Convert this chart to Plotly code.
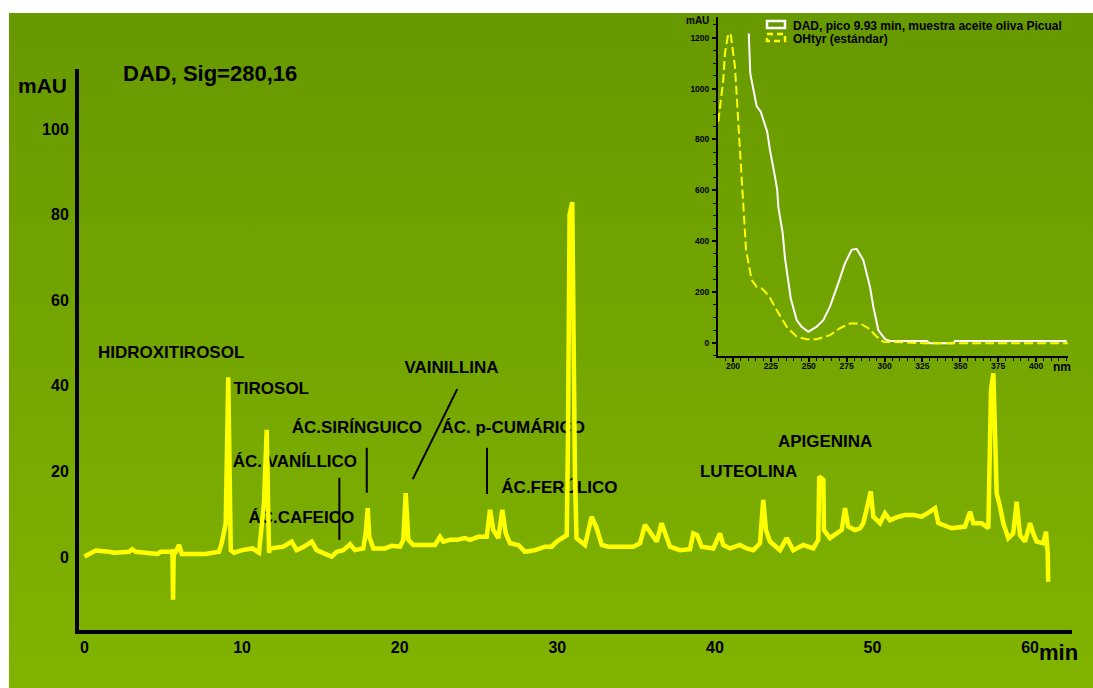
import base64
import plotly.graph_objects as go

W, H = 1093, 688

# ---- Chromatogram, DAD signal 280 nm (time in min, absorbance in mAU) ----
time_min = [0.0, 0.39, 0.71, 1.55, 1.87, 2.82, 3.03, 3.25, 3.88, 4.62, 4.84, 5.47, 5.58, 5.62, 5.66,
            5.79, 6.0, 6.17, 7.69, 8.53, 8.71, 8.96, 9.12, 9.28, 9.49, 10.01, 10.65, 11.07, 11.39,
            11.56, 11.71, 11.77, 12.61, 13.15, 13.46, 13.88, 14.42, 14.73, 15.15, 15.69, 16.0,
            16.42, 16.85, 17.16, 17.69, 17.84, 17.97, 18.07, 18.33, 19.07, 19.49, 20.02, 20.23,
            20.38, 20.55, 20.86, 22.24, 22.56, 22.77, 23.19, 23.62, 24.14, 24.46, 24.99, 25.52,
            25.73, 25.94, 26.26, 26.51, 26.73, 27.0, 27.53, 27.95, 28.58, 29.22, 29.64, 29.96,
            30.38, 30.6, 30.68, 30.78, 30.95, 31.02, 31.12, 31.22, 31.44, 31.76, 32.18, 32.5,
            32.82, 33.24, 34.82, 35.25, 35.56, 35.88, 36.31, 36.62, 36.83, 37.15, 37.79, 38.42,
            38.63, 38.88, 39.16, 39.9, 40.32, 40.53, 40.96, 41.59, 42.02, 42.44, 42.86, 43.07,
            43.24, 43.5, 44.13, 44.56, 44.97, 45.61, 46.24, 46.56, 46.62, 46.88, 46.92, 47.3,
            47.73, 48.05, 48.26, 48.46, 48.89, 49.21, 49.42, 49.63, 49.89, 50.05, 50.48, 50.79,
            51.11, 51.64, 52.06, 52.59, 53.12, 53.65, 53.97, 54.18, 55.03, 55.87, 56.19, 56.4,
            56.93, 57.35, 57.52, 57.67, 57.88, 58.09, 58.3, 58.62, 58.93, 59.15, 59.36, 59.68,
            60.0, 60.2, 60.42, 60.84, 61.01, 61.12, 61.15]
signal_mau = [0.1, 1.0, 1.5, 1.2, 1.0, 1.2, 1.8, 1.2, 1.0, 0.7, 1.2, 1.2, 1.2, -10.0, 1.3,
              1.2, 2.8, 0.7, 0.7, 1.2, 3.2, 7.9, 42.0, 1.6, 1.0, 1.6, 2.0, 1.0, 12.6,
              29.7, 1.0, 2.0, 2.4, 3.6, 1.6, 2.3, 3.6, 1.6, 0.9, 0.1, 1.2,
              1.6, 3.0, 1.6, 2.0, 5.5, 11.4, 4.7, 2.0, 2.0, 2.6, 2.4, 4.0,
              14.9, 4.0, 2.8, 2.8, 4.7, 3.6, 4.0, 4.0, 4.4, 4.0, 4.7, 4.7,
              11.0, 6.3, 4.4, 11.0, 5.5, 3.2, 2.8, 1.2, 1.6, 2.4, 2.4, 3.6,
              4.4, 5.1, 28.0, 80.0, 82.9, 49.0, 19.0, 4.4, 3.6, 2.8, 9.4, 6.7,
              2.8, 2.4, 2.4, 3.2, 7.5, 5.9, 3.6, 7.9, 5.9, 2.4, 1.6, 1.8,
              5.5, 5.1, 2.4, 2.0, 5.5, 2.8, 2.0, 2.8, 2.0, 1.6, 3.2, 13.3,
              6.3, 3.6, 1.6, 4.4, 1.6, 2.8, 2.0, 4.0, 18.8, 18.0, 6.3, 4.4,
              5.5, 6.3, 11.4, 7.1, 6.3, 6.7, 7.9, 11.8, 15.3, 9.4, 7.9, 10.2,
              8.6, 9.4, 9.8, 9.8, 9.4, 10.6, 11.4, 7.9, 6.7, 7.1, 10.6, 7.9,
              7.9, 6.7, 39.0, 42.9, 14.9, 11.8, 7.9, 4.4, 5.5, 12.9, 5.1, 3.6,
              7.9, 5.5, 3.6, 3.2, 5.9, 0.9, -5.8]

# ---- Compound labels (anchor = left edge / vertical centre of text) ----
peak_names = ["HIDROXITIROSOL", "TIROSOL", "ÁC. VANÍLLICO", "ÁC.CAFEICO", "ÁC.SIRÍNGUICO",
              "VAINILLINA", "ÁC. p-CUMÁRICO", "ÁC.FERÚLICO", "LUTEOLINA", "APIGENINA"]
label_time = [0.85, 9.45, 9.4, 10.4, 13.15, 20.3, 22.65, 26.45, 39.05, 44.0]
label_mau = [47.4, 39.0, 22.0, 8.9, 29.9, 43.9, 29.9, 15.9, 19.7, 26.6]

# pointer segments: (t0, v0, t1, v1)
pointers = [(16.17, 18.5, 16.17, 4.0),
            (17.91, 25.5, 17.91, 15.0),
            (23.65, 39.2, 20.83, 18.2),
            (25.54, 25.5, 25.54, 14.7)]

# ---- UV spectra (inset) ----
wl_sample = [210.4, 211.4, 215.6, 218.3, 222.6, 224.4, 227.7, 229.2, 229.9, 232.8, 234.3, 236.5,
             238.1, 242.0, 245.3, 249.7, 255.2, 259.6, 264.0, 269.5, 273.9, 278.3, 281.6, 286.0,
             290.4, 292.6, 295.9, 300.3, 303.6, 327.8, 330.0, 345.4, 346.5, 420.2]
abs_sample = [1217, 1060, 931, 909, 830, 758, 654, 601, 536, 431, 334, 248,
              176, 90, 64, 44, 64, 90, 143, 235, 313, 366, 370, 326,
              221, 143, 51, 15, 8, 8, -1, -1, 8, 8]

wl_std = [190.3, 193.6, 194.7, 196.9, 198.5, 200.2, 201.3, 204.2, 206.8, 208.6, 212.3, 215.6,
          218.9, 223.3, 228.8, 235.4, 242.0, 248.6, 255.2, 264.0, 270.6, 277.2, 283.8, 289.3,
          294.9, 299.2, 312.4, 325.6, 421.0]
abs_std = [870, 1034, 1139, 1217, 1211, 1139, 1086, 798, 562, 366, 248, 221,
           215, 189, 130, 64, 25, 15, 15, 31, 58, 77, 77, 58,
           25, 5, 3, -1, -1]


def px(x):
    return x / W


def py(y):
    return 1 - y / H


FONT = "Liberation Sans, Arial, sans-serif"

fig = go.Figure()

# labels first so the trace is painted over them
fig.add_trace(go.Scatter(
    x=label_time, y=label_mau, text=peak_names, mode="text",
    textposition="middle right",
    textfont=dict(family=FONT, size=17, color="black", weight="bold"),
    hoverinfo="skip", showlegend=False, xaxis="x", yaxis="y"))

for t0, v0, t1, v1 in pointers:
    fig.add_trace(go.Scatter(
        x=[t0, t1], y=[v0, v1], mode="lines",
        line=dict(color="black", width=2),
        hoverinfo="skip", showlegend=False, xaxis="x", yaxis="y"))

fig.add_trace(go.Scatter(
    x=time_min, y=signal_mau, mode="lines",
    line=dict(color="#ffff00", width=4.5),
    showlegend=False, xaxis="x", yaxis="y"))

fig.add_trace(go.Scatter(
    x=wl_sample, y=abs_sample, mode="lines",
    line=dict(color="white", width=2),
    name="DAD, pico 9.93 min, muestra aceite oliva Picual",
    showlegend=False, xaxis="x2", yaxis="y2"))

fig.add_trace(go.Scatter(
    x=wl_std, y=abs_std, mode="lines",
    line=dict(color="#ffff00", width=2, dash="9px,4px"),
    name="OHtyr (estándar)",
    showlegend=False, xaxis="x2", yaxis="y2"))

# green gradient panel behind everything
svg = ('<svg xmlns="http://www.w3.org/2000/svg" width="1084" height="675" '
       'preserveAspectRatio="none" viewBox="0 0 1084 675">'
       '<defs><linearGradient id="g" x1="0" y1="0" x2="0" y2="1">'
       '<stop offset="0" stop-color="#679900"/>'
       '<stop offset="1" stop-color="#81b300"/>'
       '</linearGradient></defs>'
       '<rect x="0" y="0" width="1084" height="675" fill="url(#g)"/></svg>')
bg_src = "data:image/svg+xml;base64," + base64.b64encode(svg.encode()).decode()

main_tick = dict(family=FONT, size=16, color="black", weight="bold")
inset_tick = dict(family=FONT, size=8.5, color="black", weight="bold")

fig.update_layout(
    width=W, height=H,
    margin=dict(l=0, r=0, t=0, b=0),
    paper_bgcolor="white",
    plot_bgcolor="rgba(0,0,0,0)",
    images=[dict(source=bg_src, xref="paper", yref="paper",
                 x=px(9), y=py(13), sizex=px(1093) - px(9), sizey=py(13) - py(688),
                 xanchor="left", yanchor="top", sizing="stretch", layer="below")],
    xaxis=dict(domain=[px(79), px(1072)], range=[-0.35, 62.66], anchor="y",
               showline=True, linecolor="black", linewidth=4, mirror=False,
               showgrid=False, zeroline=False, ticks="",
               tickmode="array", tickvals=[0, 10, 20, 30, 40, 50, 60],
               tickfont=main_tick, ticklabelstandoff=0),
    yaxis=dict(domain=[py(630), py(69)], range=[-17.06, 114.0], anchor="x",
               showline=True, linecolor="black", linewidth=4,
               showgrid=False, zeroline=False, ticks="",
               tickmode="array", tickvals=[0, 20, 40, 60, 80, 100],
               tickfont=main_tick, ticklabelstandoff=3),
    xaxis2=dict(domain=[px(718), px(1068)], range=[190.1, 421.1], anchor="y2",
                showline=True, linecolor="black", linewidth=2,
                showgrid=False, zeroline=False,
                ticks="outside", ticklen=4, tickwidth=1.5, tickcolor="black",
                tickmode="linear", tick0=200, dtick=25,
                minor=dict(ticks="outside", dtick=5, tick0=200, ticklen=3,
                           tickwidth=1, tickcolor="black", showgrid=False),
                tickfont=inset_tick, ticklabelstandoff=-3),
    yaxis2=dict(domain=[py(356), py(17)], range=[-51.1, 1281.4], anchor="x2",
                showline=True, linecolor="black", linewidth=2,
                showgrid=False, zeroline=False,
                ticks="outside", ticklen=4, tickwidth=1.5, tickcolor="black",
                tickmode="linear", tick0=0, dtick=200,
                minor=dict(ticks="outside", dtick=50, tick0=0, ticklen=3,
                           tickwidth=1, tickcolor="black", showgrid=False),
                tickfont=inset_tick, ticklabelstandoff=1),
)

big = dict(family=FONT, size=22, color="black", weight="bold")
small = dict(family=FONT, size=12, color="black", weight="bold")

annotations = [
    dict(text="DAD, Sig=280,16", x=px(121), y=py(74), xanchor="left", font=big),
    dict(text="mAU", x=px(69), y=py(85), xanchor="right", font=dict(big, size=21)),
    dict(text="min", x=px(1080), y=py(652), xanchor="right", font=big),
    dict(text="mAU", x=px(711), y=py(21), xanchor="right", font=dict(small, size=10)),
    dict(text="nm", x=px(1051), y=py(367), xanchor="left", font=small),
    dict(text="DAD, pico 9.93 min, muestra aceite oliva Picual", x=px(791), y=py(26),
         xanchor="left", font=small),
    dict(text="OHtyr (estándar)", x=px(791), y=py(38.5), xanchor="left", font=small),
]
for a in annotations:
    a.update(xref="paper", yref="paper", yanchor="middle", showarrow=False)
fig.update_layout(annotations=annotations)

# legend key boxes for the inset
fig.add_shape(type="rect", xref="paper", yref="paper",
              x0=px(767), x1=px(785), y0=py(21), y1=py(28),
              line=dict(color="white", width=2.5), fillcolor="rgba(0,0,0,0)")
fig.add_shape(type="rect", xref="paper", yref="paper",
              x0=px(767), x1=px(785), y0=py(34), y1=py(41),
              line=dict(color="#ffff00", width=2.5, dash="6px,4px"), fillcolor="rgba(0,0,0,0)")

fig.write_html("out.html")
